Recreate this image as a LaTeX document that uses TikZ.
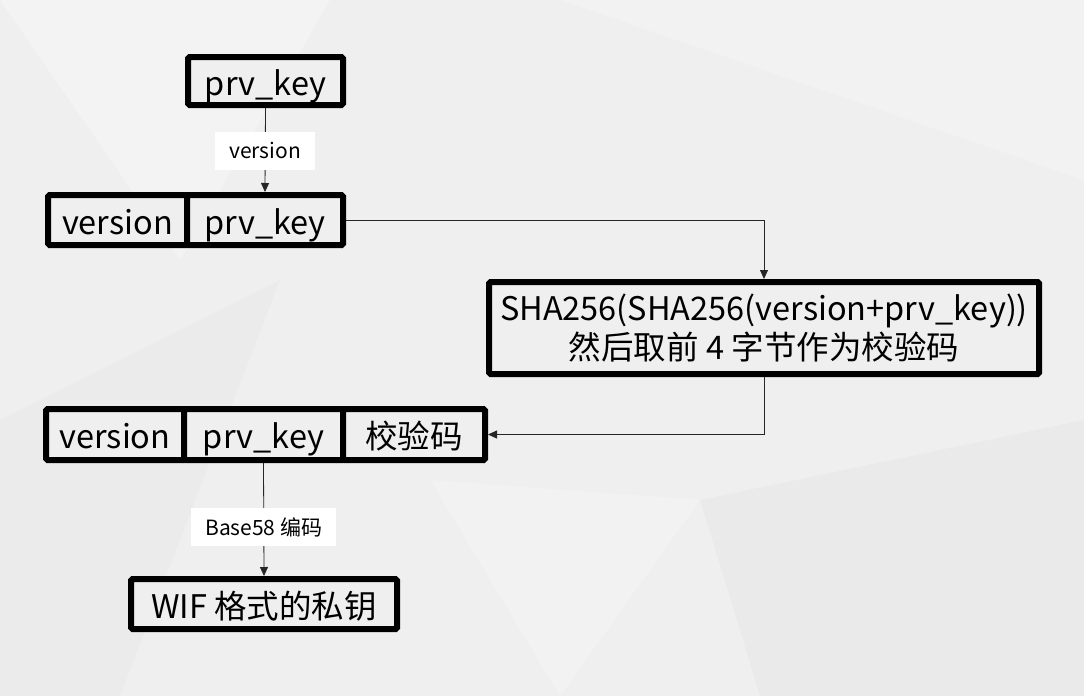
\documentclass[tikz,border=0pt]{standalone}
\usepackage{fontspec}
\setmainfont{Noto Sans CJK SC}
\usetikzlibrary{arrows.meta}
\definecolor{bggray}{RGB}{239,239,239}

\tikzset{
	box/.style={draw=black, line width=6pt, fill=bggray, rounded corners=1.5pt,
		inner sep=0pt, font=\fontsize{32.5}{39}\selectfont},
	cell/.style={box, text height=28pt, text depth=0pt},
	tag/.style={fill=white, inner xsep=14pt, minimum height=38pt, inner ysep=0pt,
		font=\fontsize{21}{25}\selectfont},
	link/.style={line width=0.8pt, draw=black!85, -{Triangle[length=9pt,width=8pt]}},
}

\begin{document}
\begin{tikzpicture}[x=1pt, y=-1pt]
		%%%%% BACKGROUND %%%%%
		\fill[bggray] (0,0) rectangle (1084,696);
		\fill[white, opacity=0.25] (0,0) -- (330,0) -- (180,260) -- cycle;
		\fill[white, opacity=0.2] (560,0) -- (1084,0) -- (1084,180) -- cycle;
		\fill[black, opacity=0.015] (0,420) -- (280,280) -- (120,696) -- (0,696) -- cycle;
		\fill[black, opacity=0.02] (700,500) -- (1084,420) -- (1084,696) -- (760,696) -- cycle;
		\fill[white, opacity=0.2] (430,480) -- (700,500) -- (560,696) -- cycle;
		
		%%%%% PRIVATE KEY %%%%%
		\node[cell, minimum width=155pt, minimum height=48pt] (key) at (265.5,81) {prv\_key};
		
		%%%%% VERSION + KEY %%%%%
		\node[cell, minimum width=139pt, minimum height=50pt] (ver2) at (117.5,220) {version};
		\node[cell, minimum width=156pt, minimum height=50pt] (key2) at (265,220) {prv\_key};
		
		%%%%% DOUBLE HASH %%%%%
		\node[box, minimum width=550pt, minimum height=92pt, align=center] (hash) at (764,328)
			{SHA256(SHA256(version+prv\_key))\\然后取前 4 字节作为校验码};
		
		%%%%% VERSION + KEY + CHECKSUM %%%%%
		\node[cell, minimum width=138pt, minimum height=51pt] (ver4) at (115,434.5) {version};
		\node[cell, minimum width=159pt, minimum height=51pt] (key4) at (263.5,434.5) {prv\_key};
		\node[cell, minimum width=142pt, minimum height=51pt] (chk4) at (414,434.5) {校验码};
		
		%%%%% WIF %%%%%
		\node[cell, minimum width=266pt, minimum height=50pt] (wif) at (264,604) {WIF 格式的私钥};
		
		%%%%% CONNECTORS %%%%%
		\draw[link] (key.south) -- node[tag, pos=0.51] (vtag) {version} (key2.north);
		\draw[link] (key2.east) -| (hash.north);
		\draw[link] (hash.south) |- (chk4.east);
		\draw[link] (key4.south) -- node[tag, pos=0.57] (btag) {Base58 编码} (wif.north);
		
		%%%%% END %%%%%
	\end{tikzpicture}
\end{document}
